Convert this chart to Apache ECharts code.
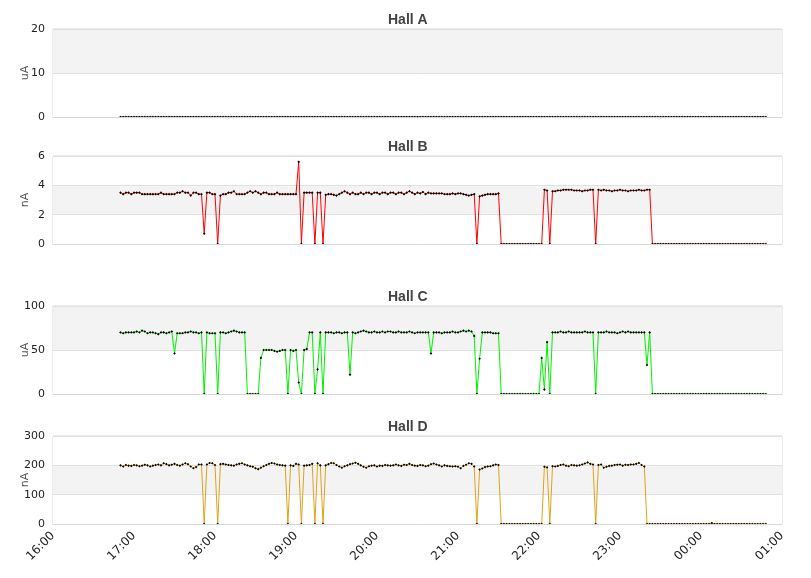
<!DOCTYPE html>
<html><head><meta charset="utf-8">
<script src="https://cdn.jsdelivr.net/npm/echarts@6/dist/echarts.min.js"></script>
<style>html,body{margin:0;padding:0;background:#fff}#c{width:811px;height:578px}</style>
</head><body><div id="c"></div>
<script>
const TIMES = [
"16:50","16:52","16:54","16:56","16:58",
"17:00","17:02","17:04","17:06","17:08","17:10","17:12","17:14","17:16","17:18","17:20","17:22","17:24","17:26","17:28","17:30","17:32","17:34","17:36","17:38","17:40","17:42","17:44","17:46","17:48","17:50","17:52","17:54","17:56","17:58",
"18:00","18:02","18:04","18:06","18:08","18:10","18:12","18:14","18:16","18:18","18:20","18:22","18:24","18:26","18:28","18:30","18:32","18:34","18:36","18:38","18:40","18:42","18:44","18:46","18:48","18:50","18:52","18:54","18:56","18:58",
"19:00","19:02","19:04","19:06","19:08","19:10","19:12","19:14","19:16","19:18","19:20","19:22","19:24","19:26","19:28","19:30","19:32","19:34","19:36","19:38","19:40","19:42","19:44","19:46","19:48","19:50","19:52","19:54","19:56","19:58",
"20:00","20:02","20:04","20:06","20:08","20:10","20:12","20:14","20:16","20:18","20:20","20:22","20:24","20:26","20:28","20:30","20:32","20:34","20:36","20:38","20:40","20:42","20:44","20:46","20:48","20:50","20:52","20:54","20:56","20:58",
"21:00","21:02","21:04","21:06","21:08","21:10","21:12","21:14","21:16","21:18","21:20","21:22","21:24","21:26","21:28","21:30","21:32","21:34","21:36","21:38","21:40","21:42","21:44","21:46","21:48","21:50","21:52","21:54","21:56","21:58",
"22:00","22:02","22:04","22:06","22:08","22:10","22:12","22:14","22:16","22:18","22:20","22:22","22:24","22:26","22:28","22:30","22:32","22:34","22:36","22:38","22:40","22:42","22:44","22:46","22:48","22:50","22:52","22:54","22:56","22:58",
"23:00","23:02","23:04","23:06","23:08","23:10","23:12","23:14","23:16","23:18","23:20","23:22","23:24","23:26","23:28","23:30","23:32","23:34","23:36","23:38","23:40","23:42","23:44","23:46","23:48","23:50","23:52","23:54","23:56","23:58",
"00:00","00:02","00:04","00:06","00:08","00:10","00:12","00:14","00:16","00:18","00:20","00:22","00:24","00:26","00:28","00:30","00:32","00:34","00:36","00:38","00:40","00:42","00:44","00:46","00:48"
];

const HALL_A = [
0,0,0,0,0,0,0,0,0,0, 0,0,0,0,0,0,0,0,0,0, 0,0,0,0,0,0,0,0,0,0, 0,0,0,0,0,0,0,0,0,0,
0,0,0,0,0,0,0,0,0,0, 0,0,0,0,0,0,0,0,0,0, 0,0,0,0,0,0,0,0,0,0, 0,0,0,0,0,0,0,0,0,0,
0,0,0,0,0,0,0,0,0,0, 0,0,0,0,0,0,0,0,0,0, 0,0,0,0,0,0,0,0,0,0, 0,0,0,0,0,0,0,0,0,0,
0,0,0,0,0,0,0,0,0,0, 0,0,0,0,0,0,0,0,0,0, 0,0,0,0,0,0,0,0,0,0, 0,0,0,0,0,0,0,0,0,0,
0,0,0,0,0,0,0,0,0,0, 0,0,0,0,0,0,0,0,0,0, 0,0,0,0,0,0,0,0,0,0, 0,0,0,0,0,0,0,0,0,0,
0,0,0,0,0,0,0,0,0,0, 0,0,0,0,0,0,0,0,0,0, 0,0,0,0,0,0,0,0,0,0, 0,0,0,0,0,0,0,0,0,0
];

const HALL_B = [
3.5,3.4,3.5,3.5,3.4,3.5,3.5,3.5,3.4,3.4,
3.4,3.4,3.4,3.4,3.4,3.5,3.4,3.4,3.4,3.4,
3.4,3.5,3.5,3.6,3.5,3.5,3.3,3.5,3.5,3.4,
3.4,0.7,3.5,3.5,3.4,3.4,0,3.3,3.4,3.4,
3.5,3.5,3.6,3.4,3.4,3.4,3.4,3.5,3.6,3.5,
3.6,3.5,3.4,3.5,3.5,3.4,3.4,3.4,3.5,3.4,
3.4,3.4,3.4,3.4,3.4,3.4,5.6,0,3.5,3.5,
3.5,3.5,0,3.5,3.5,0,3.35,3.4,3.4,3.35,
3.3,3.4,3.5,3.6,3.5,3.4,3.5,3.4,3.4,3.5,
3.4,3.5,3.5,3.4,3.5,3.5,3.4,3.5,3.5,3.4,
3.5,3.5,3.4,3.5,3.5,3.4,3.5,3.6,3.5,3.4,
3.5,3.45,3.55,3.4,3.5,3.45,3.45,3.45,3.45,3.45,
3.4,3.4,3.4,3.45,3.4,3.45,3.45,3.4,3.35,3.3,
3.35,3.4,0,3.25,3.3,3.35,3.4,3.4,3.4,3.4,
3.45,0,0,0,0,0,0,0,0,0,
0,0,0,0,0,0,0,3.7,3.65,0,
3.6,3.6,3.65,3.65,3.7,3.7,3.7,3.7,3.65,3.65,
3.65,3.6,3.65,3.65,3.7,3.7,0,3.7,3.65,3.7,
3.65,3.65,3.6,3.65,3.65,3.7,3.65,3.65,3.6,3.65,
3.65,3.65,3.7,3.65,3.65,3.7,3.7,0,0,0,
0,0,0,0,0,0,0,0,0,0,
0,0,0,0,0,0,0,0,0,0,
0,0,0,0,0,0,0,0,0,0,
0,0,0,0,0,0,0,0,0,0
];

const HALL_C = [
70,69,70,70,70,70,71,70,72,71,
69,70,70,69,68,70,70,69,70,71,
46,69,69,69,70,70,71,70,70,69,
70,0,70,69,69,69,0,70,70,69,
70,71,72,71,70,70,70,0,0,0,
0,0,41,50,50,50,50,49,48,49,
50,50,0,50,49,50,13,0,50,51,
70,70,0,28,70,0,70,70,70,69,
70,70,69,70,70,22,70,69,70,71,
72,71,70,70,71,70,70,71,70,71,
71,70,70,71,70,70,70,71,70,69,
70,70,70,70,70,46,70,70,70,69,
70,70,70,71,70,70,71,72,71,72,
71,66,0,40,70,70,70,70,69,69,
69,0,0,0,0,0,0,0,0,0,
0,0,0,0,0,0,41,5,59,0,
70,70,70,71,70,70,71,70,70,70,
70,70,71,70,70,70,0,70,70,70,
71,70,70,70,69,70,71,70,71,70,
70,70,70,70,70,33,70,0,0,0,
0,0,0,0,0,0,0,0,0,0,
0,0,0,0,0,0,0,0,0,0,
0,0,0,0,0,0,0,0,0,0,
0,0,0,0,0,0,0,0,0,0
];

const HALL_D = [
200,196,201,199,198,201,200,197,199,202,
200,196,199,201,203,200,207,204,200,202,
205,201,199,203,207,204,196,190,194,203,
203,0,203,208,207,201,0,204,205,203,
201,200,199,203,205,207,203,200,197,195,
190,187,192,197,201,205,208,206,203,201,
200,199,0,200,198,205,203,0,199,200,
201,205,0,207,200,0,200,204,208,207,
201,196,192,197,200,204,206,209,205,200,
195,192,197,199,200,196,199,198,201,200,
199,200,203,200,198,202,201,205,201,199,
198,201,200,197,199,204,206,203,200,196,
200,198,197,196,197,195,190,198,202,207,
205,196,0,186,189,194,196,197,200,203,
201,0,0,0,0,0,0,0,0,0,
0,0,0,0,0,0,0,195,193,0,
197,196,198,201,203,199,197,201,200,199,
200,203,206,210,205,203,0,201,203,192,
195,198,199,201,202,203,199,202,201,203,
203,205,208,201,196,0,0,0,0,0,
0,0,0,0,0,0,0,0,0,0,
0,0,0,0,0,0,0,0,0,3,
0,0,0,0,0,0,0,0,0,0,
0,0,0,0,0,0,0,0,0,0
];

const TITLES = ['Hall A','Hall B','Hall C','Hall D'];
const UNITS = ['uA','nA','uA','nA'];
const Y_MAX = [20, 6, 100, 300];
const Y_STEP = [10, 2, 50, 100];
const X_TICKS = ['16:00','17:00','18:00','19:00','20:00','21:00','22:00','23:00','00:00','01:00'];
const SERIES_VALUES = [HALL_A, HALL_B, HALL_C, HALL_D];
const LINE_COLORS = ['#333333', '#ff0000', '#00f000', '#e0a21a'];

const GRID_TOPS = [29, 156, 306, 436];
const GRID_H = 88;

function toMin(t) {
  const p = t.split(':');
  let h = +p[0];
  if (h < 12) h += 24;
  return (h - 16) * 60 + (+p[1]);
}

const chart = echarts.init(document.getElementById('c'), null, {renderer: 'canvas'});
const option = {
  animation: false,
  backgroundColor: '#ffffff',
  title: TITLES.map((t, i) => ({
    text: t, left: 388, top: GRID_TOPS[i] - 16, padding: 0,
    textStyle: {fontFamily: 'Liberation Sans', fontSize: 14, fontWeight: 'bold', color: '#444444'}
  })),
  grid: GRID_TOPS.map(top => ({
    left: 53, right: 29, top: top, height: GRID_H,
    show: true, borderColor: '#d8d8d8', borderWidth: 1, backgroundColor: 'transparent',
    containLabel: false, outerBoundsMode: 'none'
  })),
  xAxis: GRID_TOPS.map((_, i) => ({
    type: 'value', gridIndex: i, min: 0, max: (X_TICKS.length - 1) * 60, interval: 60,
    z: 10,
    axisLine: {show: true, lineStyle: {color: '#d8d8d8', width: 1}},
    axisTick: {show: false},
    splitLine: {show: false},
    axisLabel: {
      show: i === 3, rotate: 45, margin: 10,
      fontFamily: 'DejaVu Sans', fontSize: 12, color: '#222222',
      formatter: v => X_TICKS[Math.round(v / 60)]
    }
  })),
  yAxis: GRID_TOPS.map((_, i) => ({
    type: 'value', gridIndex: i, min: 0, max: Y_MAX[i], interval: Y_STEP[i],
    name: UNITS[i], nameLocation: 'middle', nameGap: 22, nameMoveOverlap: false,
    nameTextStyle: {fontFamily: 'DejaVu Sans', fontSize: 11, color: '#555555'},
    axisLine: {show: false},
    axisTick: {show: false},
    axisLabel: {fontFamily: 'DejaVu Sans', fontSize: 11, color: '#222222', margin: 8},
    splitLine: {show: true, lineStyle: {color: '#e0e0e0', width: 1}},
    splitArea: {show: true, areaStyle: {color: ['#ffffff', '#f3f3f3']}}
  })),
  series: SERIES_VALUES.map((vals, i) => ({
    type: 'line', name: TITLES[i], xAxisIndex: i, yAxisIndex: i,
    data: TIMES.map((t, k) => [toMin(t), vals[k]]),
    showSymbol: true, showAllSymbol: true,
    symbol: 'diamond', symbolSize: 2.6,
    itemStyle: {color: '#000000'},
    lineStyle: {color: LINE_COLORS[i], width: 1},
    emphasis: {disabled: true}
  }))
};
chart.setOption(option);
</script>
</body></html>
